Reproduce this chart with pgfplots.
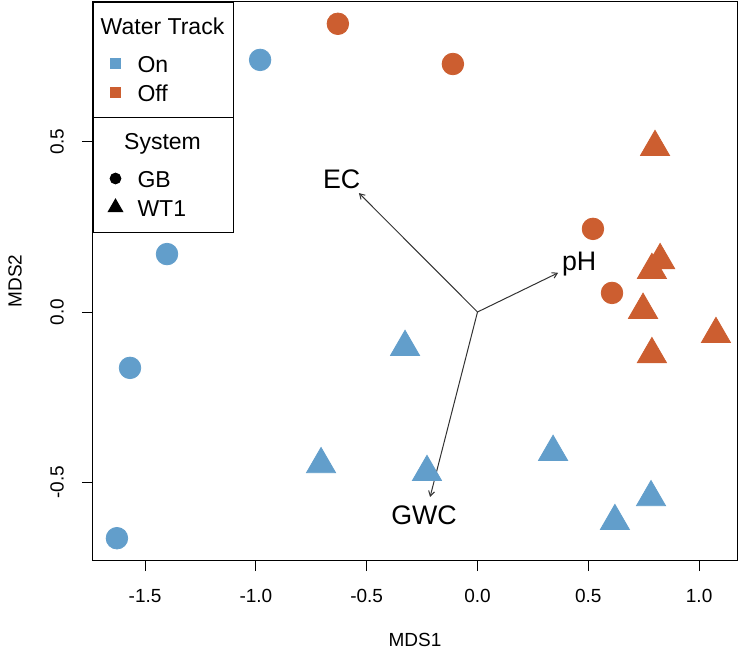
\documentclass[border=0pt]{standalone}
\usepackage{pgfplots}
\pgfplotsset{compat=1.18}
\usepackage{fontspec}
\setmainfont{Liberation Sans}
\usetikzlibrary{arrows.meta}
\definecolor{ontrack}{RGB}{98,158,203}
\definecolor{offtrack}{RGB}{204,94,48}
\definecolor{arrowgray}{RGB}{50,50,50}
\newcommand{\es}{\rule[-2.95pt]{0pt}{14.5pt}}
\newcommand{\ts}{\rule[-7.45pt]{0pt}{18pt}}
\newcommand{\legtext}[1]{\makebox[45.5pt][l]{\es #1}}
\newcommand{\legtitle}[1]{\makebox[45.5pt][l]{\ts\hspace*{-21pt}\makebox[67pt][c]{#1}}}
\pgfplotsset{
  commonaxis/.style={
    scale only axis, width=322pt, height=279pt,
    xmin=-1.735, xmax=1.171, ymin=-0.728, ymax=0.910,
    at={(0,0)}, anchor=south west,
  },
  boxlegend/.style={
    legend style={
      draw=black, line width=0.5pt, fill=white,
      font=\fontsize{11.5}{13}\selectfont,
      inner xsep=2.5pt, inner ysep=5.25pt,
      row sep=0pt, column sep=2.5pt,
      nodes={inner sep=0pt, text depth=, text height=},
      cells={anchor=west},
      anchor=north west,
      at={(0,#1)},
    },
    legend image code/.code={
      \path[draw=none, fill=none] (0pt,-2pt) rectangle (17pt,2pt);
      \draw[##1] plot coordinates {(8.5pt,0pt)};
    },
  },
}
\begin{document}
\begin{tikzpicture}
\begin{axis}[commonaxis, boxlegend=1,
  axis line style={line width=0.5pt, black},
  tick align=outside, major tick length=5.5pt,
  tick style={line width=0.5pt, black},
  xtick pos=left, ytick pos=left,
  xtick={-1.5,-1,-0.5,0,0.5,1}, ytick={-0.5,0,0.5},
  /pgf/number format/assume math mode=true,
  xticklabel style={/pgf/number format/fixed, /pgf/number format/fixed zerofill, /pgf/number format/precision=1, font=\fontsize{9.5}{11}\selectfont, anchor=center, yshift=-12.5pt},
  yticklabel style={/pgf/number format/fixed, /pgf/number format/fixed zerofill, /pgf/number format/precision=1, font=\fontsize{9.5}{11}\selectfont, anchor=center, xshift=-12.5pt, rotate=90},
  xlabel={MDS1}, ylabel={MDS2},
  every axis x label/.style={at={(axis description cs:0.5,-0.1434)}, anchor=center, font=\fontsize{9.5}{11}\selectfont},
  every axis y label/.style={at={(axis description cs:-0.1211,0.5)}, anchor=center, rotate=90, font=\fontsize{9.5}{11}\selectfont},
]
\addlegendimage{empty legend}
\addlegendentry{\legtitle{Water Track}}
\addlegendimage{only marks, mark=square*, mark size=2.35pt, color=ontrack}
\addlegendentry{\legtext{On}}
\addlegendimage{only marks, mark=square*, mark size=2.35pt, color=offtrack}
\addlegendentry{\legtext{Off}}

% On, GB (circles)
\addplot[only marks, mark=*, mark size=5.4pt, color=ontrack, forget plot] coordinates {
 (-0.981,0.740) (-1.401,0.170) (-1.568,-0.164) (-1.627,-0.664)};
% Off, GB (circles)
\addplot[only marks, mark=*, mark size=5.4pt, color=offtrack, forget plot] coordinates {
 (-0.630,0.846) (-0.111,0.728) (0.521,0.244) (0.607,0.056)};
% On, WT1 (triangles)
\addplot[only marks, mark=triangle*, mark size=8.4pt, color=ontrack, forget plot] coordinates {
 (-0.327,-0.103) (-0.706,-0.447) (-0.228,-0.470) (0.341,-0.411) (0.783,-0.544) (0.620,-0.614)};
% Off, WT1 (triangles)
\addplot[only marks, mark=triangle*, mark size=8.4pt, color=offtrack, forget plot] coordinates {
 (0.801,0.484) (0.824,0.152) (0.787,0.123) (0.747,0.006) (0.787,-0.124) (1.076,-0.065)};

% envfit arrows
\addplot[arrowgray, line width=0.5pt, -{Straight Barb[length=2.5pt,width=3pt]}, forget plot] coordinates {(0,0) (-0.535,0.349)};
\addplot[arrowgray, line width=0.5pt, -{Straight Barb[length=2.5pt,width=3pt]}, forget plot] coordinates {(0,0) (0.364,0.115)};
\addplot[arrowgray, line width=0.5pt, -{Straight Barb[length=2.5pt,width=3pt]}, forget plot] coordinates {(0,0) (-0.214,-0.543)};
\node[font=\fontsize{13.4}{15}\selectfont] at (axis cs:-0.613,0.390) {EC};
\node[font=\fontsize{13.4}{15}\selectfont] at (axis cs:0.459,0.140) {pH};
\node[font=\fontsize{13.4}{15}\selectfont] at (axis cs:-0.241,-0.596) {GWC};
\end{axis}
\begin{axis}[commonaxis, hide axis, boxlegend=0.7939]
\addlegendimage{empty legend}
\addlegendentry{\legtitle{System}}
\addlegendimage{only marks, mark=*, mark size=2.67pt, color=black}
\addlegendentry{\legtext{GB}}
\addlegendimage{only marks, mark=triangle*, mark size=4.15pt, color=black}
\addlegendentry{\legtext{WT1}}
\end{axis}
\pgfresetboundingbox
\path (-46.5pt,-47.5pt) rectangle (325pt,280pt);
\end{tikzpicture}
\end{document}
